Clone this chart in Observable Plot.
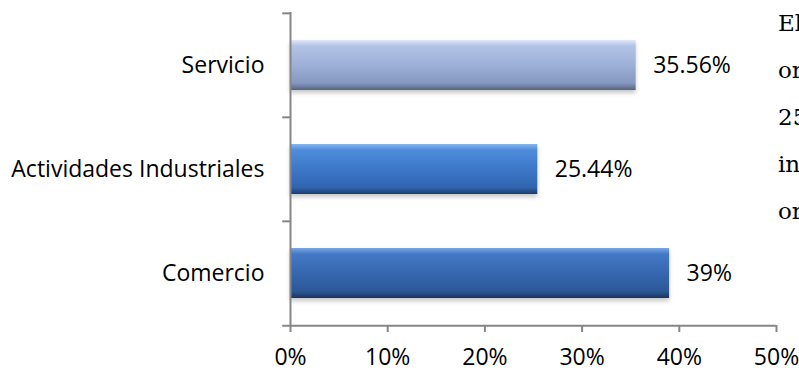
<!DOCTYPE html>
<html>
<head>
<meta charset="utf-8">
<script src="https://cdn.jsdelivr.net/npm/d3@7"></script>
<script src="https://cdn.jsdelivr.net/npm/@observablehq/plot@0.6"></script>
<style>
  html, body { margin: 0; padding: 0; background: #fff; overflow: hidden; }
  #wrap { position: relative; width: 799px; height: 373px; overflow: hidden; }
  #side { position: absolute; left: 778px; top: 0; font: 23px "DejaVu Serif", serif; line-height: 47px; color: #000; white-space: nowrap; }
  g[aria-label="bar"] rect { filter: drop-shadow(0px 3px 2px rgba(0,0,0,0.22)); }
</style>
</head>
<body>
<svg width="0" height="0" style="position:absolute">
  <defs>
    <linearGradient id="gLight" x1="0" y1="0" x2="0" y2="1">
      <stop offset="0" stop-color="#dfe8f8"/>
      <stop offset="0.12" stop-color="#b2c3e6"/>
      <stop offset="0.5" stop-color="#9db0d8"/>
      <stop offset="0.86" stop-color="#8698c0"/>
      <stop offset="0.94" stop-color="#6a7b9a"/>
      <stop offset="1" stop-color="#56647e"/>
    </linearGradient>
    <linearGradient id="gMid" x1="0" y1="0" x2="0" y2="1">
      <stop offset="0" stop-color="#86b6f0"/>
      <stop offset="0.12" stop-color="#4f8cdc"/>
      <stop offset="0.5" stop-color="#3d78c8"/>
      <stop offset="0.86" stop-color="#3166b0"/>
      <stop offset="0.94" stop-color="#264f8a"/>
      <stop offset="1" stop-color="#1d3c68"/>
    </linearGradient>
    <linearGradient id="gDark" x1="0" y1="0" x2="0" y2="1">
      <stop offset="0" stop-color="#7aa8e4"/>
      <stop offset="0.12" stop-color="#4479c6"/>
      <stop offset="0.5" stop-color="#3667b0"/>
      <stop offset="0.86" stop-color="#2c5898"/>
      <stop offset="0.94" stop-color="#224578"/>
      <stop offset="1" stop-color="#1a355c"/>
    </linearGradient>
  </defs>
</svg>
<div id="wrap">
  <div id="chart"></div>
  <div id="side"><div>El</div><div>or</div><div>25</div><div>in</div><div>or</div></div>
</div>
<script>
const categories = ["Servicio", "Actividades Industriales", "Comercio"];
const values = [35.56, 25.44, 39];
const labels = ["35.56%", "25.44%", "39%"];
const fills = ["url(#gLight)", "url(#gMid)", "url(#gDark)"];
const xTicks = [0, 10, 20, 30, 40, 50];

const data = categories.map((c, i) => ({cat: c, value: values[i], label: labels[i], fill: fills[i]}));

const W = 799, H = 373, mT = 12, mB = 48, mL = 290, mR = 23;
const step = (H - mT - mB) / categories.length;
const axisColor = "#868686";
const font = "Open Sans";

const chart = Plot.plot({
  width: W,
  height: H,
  marginTop: mT,
  marginBottom: mB,
  marginLeft: mL,
  marginRight: mR,
  style: {fontFamily: font, fontSize: "23px", color: "#000", background: "transparent"},
  x: {domain: [0, 50], ticks: xTicks, tickFormat: d => d + "%"},
  y: {domain: categories, paddingInner: 0.52, paddingOuter: 0.26, align: 0.5},
  marks: [
    Plot.barX(data, {x: "value", y: "cat", fill: "fill"}),
    Plot.ruleX([0], {stroke: axisColor, strokeWidth: 2}),
    Plot.ruleY(categories, {y: d => d, dy: -step / 2, x1: -0.8, x2: 0, stroke: axisColor, strokeWidth: 2}),
    Plot.ruleY([categories[categories.length - 1]], {y: d => d, dy: step / 2, x1: -0.8, x2: 50, stroke: axisColor, strokeWidth: 2}),
    Plot.axisX({ticks: xTicks, tickFormat: d => d + "%", tickSize: 7, tickPadding: 16, stroke: axisColor, strokeWidth: 2, fill: "#000", fontSize: 23, label: null}),
    Plot.axisY({tickSize: 0, tickPadding: 26, fill: "#000", fontSize: 23, label: null}),
    Plot.text(data, {x: "value", y: "cat", text: "label", dx: 17, textAnchor: "start", fill: "#000", fontSize: 23})
  ]
});
document.getElementById("chart").appendChild(chart);
</script>
</body>
</html>
